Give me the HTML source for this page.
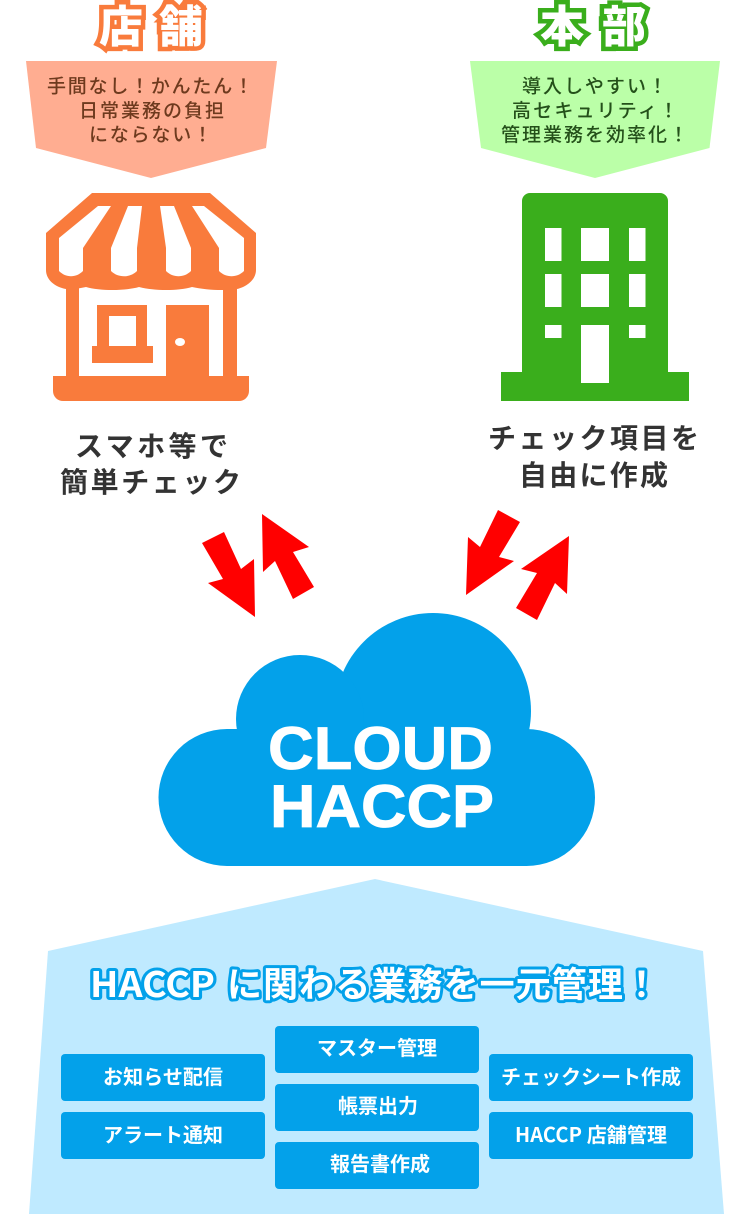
<!DOCTYPE html>
<html lang="ja"><head><meta charset="utf-8"><title>CLOUD HACCP</title>
<style>
html,body{margin:0;padding:0;background:#fff}
svg{display:block}
text{font-family:"Liberation Sans","Noto Sans CJK JP",sans-serif}
.jp{font-family:"Noto Sans CJK JP",sans-serif}
</style></head><body>
<svg width="750" height="1214" viewBox="0 0 750 1214" xmlns="http://www.w3.org/2000/svg">
<!-- titles -->
<g font-size="44" font-weight="900" fill="#fff" stroke-linejoin="miter" stroke-width="9">
<text class="jp" x="99" y="42" stroke="#f97b3c" style="paint-order:stroke" textLength="104">店舗</text>
<text class="jp" x="540" y="42" stroke="#3aae1c" style="paint-order:stroke" textLength="106">本部</text>
</g>
<!-- banners -->
<polygon points="26,61 277,61 266,148 151,178 36,148" fill="#ffad91"/>
<polygon points="470,61 720,61 709.5,148 595,178 481,148" fill="#bbffa8"/>
<g font-size="19" font-weight="500" fill="#6e3a1e">
<text class="jp" x="47" y="92.500" textLength="206">手間なし！かんたん！</text>
<text class="jp" x="79" y="117" textLength="145">日常業務の負担</text>
<text class="jp" x="89" y="141" textLength="123">にならない！</text>
</g>
<g font-size="19" font-weight="500" fill="#24501a">
<text class="jp" x="522" y="92.500" textLength="145">導入しやすい！</text>
<text class="jp" x="512" y="117" textLength="166">高セキュリティ！</text>
<text class="jp" x="501" y="141" textLength="187">管理業務を効率化！</text>
</g>
<!-- shop -->
<g fill="#f97b3c">
<path d="M92,193H210L256,233V270C256,280 246,287 237,289C225,291 205,290 192,287C178,291 155,291 139,287C125,291 100,291 86,287C80,288 72,290 66,289C55,287 46,280 46,270V233Z"/>
<rect x="66" y="280" width="13" height="100"/>
<rect x="223" y="280" width="14" height="100"/>
<path d="M53,376H249V391A10,10 0 0 1 239,401H63A10,10 0 0 1 53,391Z"/>
<rect x="166" y="305" width="43" height="72"/>
<path d="M97,305H147V346H153V363H92V346H97Z"/>
</g>
<g fill="#fff">
<rect x="109" y="316" width="27" height="30"/>
<ellipse cx="180" cy="342" rx="5" ry="4"/>
<path d="M98,206H111L83,248V271C76,278 66,278 59,271V238Z"/>
<path d="M128,206H142L137,248V271C130,278 118,278 111,271V248Z"/>
<path d="M160,206H174L191,248V271C184,278 173,278 166,271V248Z"/>
<path d="M192,206H204L244,238V271C237,278 226,278 219,271V248Z"/>
</g>
<!-- building -->
<path d="M530,193H660A8,8 0 0 1 668,201V372H689V401H501V372H522V201A8,8 0 0 1 530,193Z" fill="#3aae1c"/>
<g fill="#fff">
<rect x="545" y="228" width="16.500" height="33"/><rect x="581" y="228" width="28" height="33"/><rect x="629" y="228" width="16.500" height="33"/>
<rect x="545" y="274" width="16.500" height="33"/><rect x="581" y="274" width="28" height="33"/><rect x="629" y="274" width="16.500" height="33"/>
<rect x="545" y="325" width="16.500" height="13"/><rect x="629" y="325" width="16.500" height="13"/>
<rect x="581" y="325" width="28" height="58"/>
</g>
<!-- labels -->
<g font-size="28" font-weight="700" fill="#333">
<text class="jp" x="75" y="456" textLength="153">スマホ等で</text>
<text class="jp" x="60" y="492" textLength="181">簡単チェック</text>
<text class="jp" x="488" y="448" textLength="211">チェック項目を</text>
<text class="jp" x="519" y="485" textLength="149">自由に作成</text>
</g>
<!-- arrows -->
<g fill="#ff0000">
<polygon points="202,543 224,532 241,569 254,559 255,617 208,583 223,579"/>
<polygon points="262,514 309,547 293,552 314,587 293,599 275,561 263,572"/>
<polygon points="498,510 520,522 499,557 514,561 466,595 468,537 480,547"/>
<polygon points="569,536 567,594 555,583 537,620 516,608 537,573 521,569"/>
</g>
<!-- cloud -->
<g fill="#03a1ea">
<circle cx="433" cy="711" r="98"/>
<circle cx="300" cy="719" r="64"/>
<circle cx="227" cy="797.500" r="68.500"/>
<circle cx="526.500" cy="797.500" r="68.500"/>
<rect x="227" y="729" width="300" height="137"/>
</g>
<g font-size="60" font-weight="700" fill="#fff" stroke="#fff" stroke-width="0.8">
<text x="268" y="769" textLength="225" lengthAdjust="spacingAndGlyphs">CLOUD</text>
<text x="270" y="827" textLength="224" lengthAdjust="spacingAndGlyphs">HACCP</text>
</g>
<!-- house -->
<polygon points="375,879 703,951 724,1214 29,1214 48,951" fill="#bfeaff"/>
<g font-size="35" font-weight="700" fill="#fff" stroke="#03a1ea" stroke-width="6" stroke-linejoin="round">
<text class="jp" x="90" y="997" style="paint-order:stroke" textLength="125" lengthAdjust="spacingAndGlyphs">HACCP</text>
<text class="jp" x="227" y="997" style="paint-order:stroke" textLength="432">に関わる業務を一元管理！</text>
</g>
<g fill="#03a1ea">
<rect x="61" y="1054" width="204" height="47" rx="4"/>
<rect x="61" y="1112" width="204" height="47" rx="4"/>
<rect x="275" y="1026" width="204" height="47" rx="4"/>
<rect x="275" y="1084" width="204" height="47" rx="4"/>
<rect x="275" y="1142" width="204" height="47" rx="4"/>
<rect x="489" y="1054" width="204" height="47" rx="4"/>
<rect x="489" y="1112" width="204" height="47" rx="4"/>
</g>
<g font-size="20" font-weight="700" fill="#fff">
<text class="jp" x="103" y="1084" textLength="120">お知らせ配信</text>
<text class="jp" x="103" y="1142" textLength="120">アラート通知</text>
<text class="jp" x="317" y="1055" textLength="120">マスター管理</text>
<text class="jp" x="338" y="1113" textLength="80">帳票出力</text>
<text class="jp" x="330" y="1171" textLength="100">報告書作成</text>
<text class="jp" x="501" y="1084" textLength="180">チェックシート作成</text>
<text class="jp" x="515" y="1142" textLength="152">HACCP 店舗管理</text>
</g>
</svg>
</body></html>
